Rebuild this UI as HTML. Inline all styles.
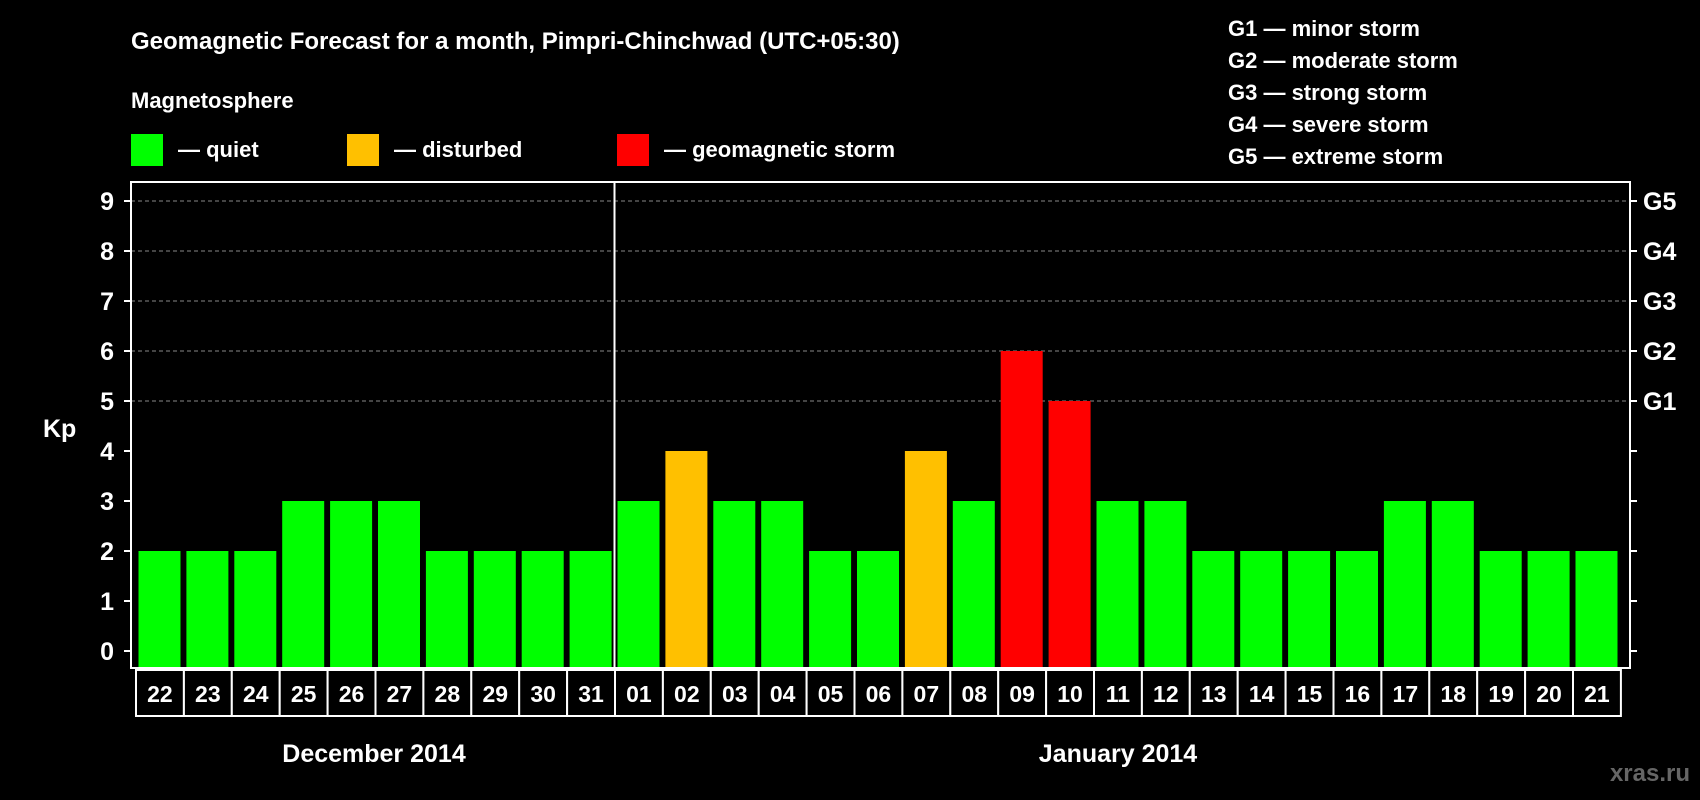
<!DOCTYPE html>
<html><head><meta charset="utf-8"><style>
html,body{margin:0;padding:0;background:#000;}
svg{display:block;font-family:"Liberation Sans",Arial,sans-serif;font-weight:bold;}
</style></head><body>
<svg id="chart" width="1700" height="800" viewBox="0 0 1700 800">
<text x="131" y="49" fill="#fff" font-size="24">Geomagnetic Forecast for a month, Pimpri-Chinchwad (UTC+05:30)</text>
<text x="131" y="108" fill="#fff" font-size="22">Magnetosphere</text>
<g><rect x="131" y="134" width="32" height="32" fill="#00ff00"/><text x="178" y="157" fill="#fff" font-size="22">— quiet</text></g>
<g><rect x="347" y="134" width="32" height="32" fill="#ffc000"/><text x="394" y="157" fill="#fff" font-size="22">— disturbed</text></g>
<g><rect x="617" y="134" width="32" height="32" fill="#ff0000"/><text x="664" y="157" fill="#fff" font-size="22">— geomagnetic storm</text></g>
<g fill="#fff" font-size="22">
<text x="1228" y="36">G1 — minor storm</text>
<text x="1228" y="68">G2 — moderate storm</text>
<text x="1228" y="100">G3 — strong storm</text>
<text x="1228" y="132">G4 — severe storm</text>
<text x="1228" y="164">G5 — extreme storm</text>
</g>
<text x="43" y="437" fill="#fff" font-size="25">Kp</text>
<g id="grid"></g><g id="bars"></g><g id="axes"></g><g id="cells"></g>
<text x="374" y="762" fill="#fff" font-size="25" text-anchor="middle">December 2014</text>
<text x="1118" y="762" fill="#fff" font-size="25" text-anchor="middle">January 2014</text>
<text x="1690" y="781" fill="#666" font-size="24" text-anchor="end">xras.ru</text>
</svg>
<script>
const days=["22","23","24","25","26","27","28","29","30","31","01","02","03","04","05","06","07","08","09","10","11","12","13","14","15","16","17","18","19","20","21"];
const kp=[2,2,2,3,3,3,2,2,2,2,3,4,3,3,2,2,4,3,6,5,3,3,2,2,2,2,3,3,2,2,2];
const yTicks=[0,1,2,3,4,5,6,7,7,8,9].filter((v,i,a)=>a.indexOf(v)===i);
const gLabels=["G1","G2","G3","G4","G5"];
const gLevels=[5,6,7,8,9];
const NS="http://www.w3.org/2000/svg";
const L=131,R=1630,T=182,B=668,cell0=136,pitch=47.9;
const y=v=>651-50*v;
const x=i=>cell0+i*pitch;
function mk(tag,attrs,parent,txt){const e=document.createElementNS(NS,tag);for(const k in attrs)e.setAttribute(k,attrs[k]);if(txt!==undefined)e.textContent=txt;document.getElementById(parent).appendChild(e);return e;}
gLevels.forEach((v,i)=>{
 const g=mk('line',{x1:L,x2:R,y1:y(v),y2:y(v),stroke:'#888','stroke-dasharray':'4,3','stroke-width':1},'grid');
 
 
 const t=mk('text',{x:R+13,y:y(v)+9,fill:'#fff','font-size':25},'axes',gLabels[i]);
 
 
});
kp.forEach((v,i)=>{
 const c=v>=5?'#ff0000':(v>=4?'#ffc000':'#00ff00');
 const b=mk('rect',{x:x(i)+2.5,y:y(v),width:42,height:B-y(v),fill:c},'bars');
 
 
});
yTicks.forEach(v=>{
 const t=mk('text',{x:114,y:y(v)+9,fill:'#fff','font-size':25,'text-anchor':'end'},'axes',String(v));
 
 
 mk('line',{x1:L-7,x2:L,y1:y(v),y2:y(v),stroke:'#fff','stroke-width':2},'axes');
 mk('line',{x1:R,x2:R+7,y1:y(v),y2:y(v),stroke:'#fff','stroke-width':2},'axes');
});
const f=mk('rect',{x:L,y:T,width:R-L,height:B-T,fill:'none',stroke:'#fff','stroke-width':2},'axes');


const sep=mk('line',{x1:x(10)-0.5,x2:x(10)-0.5,y1:T,y2:B,stroke:'#fff','stroke-width':2},'axes');


days.forEach((d,i)=>{
 const r=mk('rect',{x:x(i),y:670,width:pitch,height:46,fill:'#000',stroke:'#fff','stroke-width':2},'cells');
 
 
 const t=mk('text',{x:x(i)+pitch/2,y:702,fill:'#fff','font-size':23,'text-anchor':'middle'},'cells',d);
 
 
});
</script>
</body></html>
